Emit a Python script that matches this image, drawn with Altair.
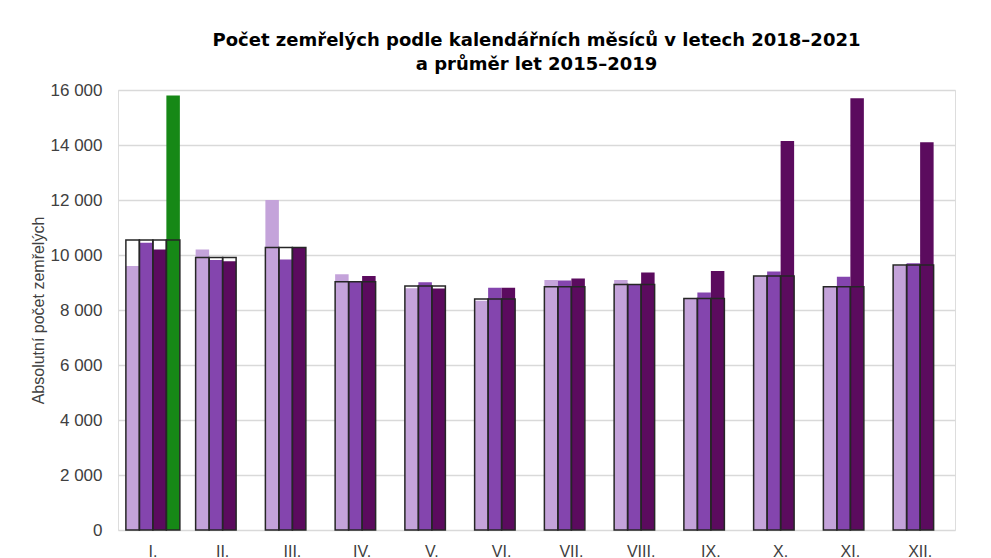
import altair as alt
import pandas as pd

months = ["I.", "II.", "III.", "IV.", "V.", "VI.", "VII.", "VIII.", "IX.", "X.", "XI.", "XII."]
years = ["2018", "2019", "2020", "2021"]

deaths_2018 = [9600, 10200, 12000, 9300, 8790, 8340, 9090, 9090, 8420, 9230, 8850, 9620]
deaths_2019 = [10450, 9820, 9840, 9030, 9010, 8810, 9070, 8930, 8640, 9400, 9210, 9700]
deaths_2020 = [10200, 9770, 10280, 9240, 8780, 8810, 9150, 9360, 9420, 14150, 15700, 14100]
deaths_2021 = [15800]
avg_2015_2019 = [10550, 9910, 10270, 9030, 8870, 8400, 8850, 8930, 8420, 9240, 8850, 9640]

colors = ["#C4A3DA", "#8445AE", "#5B0B5E", "#168816"]

series = {"2018": deaths_2018, "2019": deaths_2019, "2020": deaths_2020, "2021": deaths_2021}
bar_rows, box_rows = [], []
for yr, vals in series.items():
    for i, v in enumerate(vals):
        bar_rows.append({"month": months[i], "year": yr, "value": v})
        box_rows.append({"month": months[i], "year": yr, "value": avg_2015_2019[i]})
bars_df = pd.DataFrame(bar_rows)
box_df = pd.DataFrame(box_rows)

x = alt.X("month:N", sort=months,
          scale=alt.Scale(domain=months, paddingInner=0.226, paddingOuter=0.113),
          axis=alt.Axis(title=None, labelAngle=0, ticks=False, domain=False, grid=False,
                        labelFontSize=16, labelPadding=13, labelColor="#404040",
                        labelFont="Liberation Sans"))
xoff = alt.XOffset("year:N", sort=years,
                   scale=alt.Scale(domain=years, paddingInner=0, paddingOuter=0))
y = alt.Y("value:Q",
          scale=alt.Scale(domain=[0, 16000], nice=False),
          axis=alt.Axis(title="Absolutní počet zemřelých",
                        values=list(range(0, 16001, 2000)),
                        labelExpr="replace(format(datum.value, ','), ',', ' ')",
                        ticks=False, domain=False, labelPadding=16,
                        labelFontSize=17, labelColor="#404040", labelFont="Liberation Sans",
                        titleFontSize=16, titleFontWeight="normal", titleColor="#404040",
                        titleFont="Liberation Sans", titlePadding=4,
                        gridColor="#D9D9D9", gridWidth=1.5))

white_box = alt.Chart(box_df).mark_bar(fill="white").encode(x=x, xOffset=xoff, y=y)
bars = alt.Chart(bars_df).mark_bar().encode(
    x=x, xOffset=xoff, y=y,
    color=alt.Color("year:N", scale=alt.Scale(domain=years, range=colors), legend=None),
)
outline = alt.Chart(box_df).mark_bar(fill="transparent", stroke="#262626", strokeWidth=1.5).encode(
    x=x, xOffset=xoff, y=y)

chart = alt.layer(white_box, bars, outline).properties(
    width=837, height=440,
    padding={"top": 24, "left": 22, "right": 10, "bottom": 0},
    title=alt.TitleParams(
        ["Počet zemřelých podle kalendářních měsíců v letech 2018–2021", "a průměr let 2015–2019"],
        fontSize=18, font="DejaVu Sans", fontWeight="bold", color="#000000",
        anchor="middle", frame="group", offset=7, lineHeight=24),
).configure_view(stroke=None).configure(background="white")

chart.save("out.html", embed_options={"renderer": "svg", "actions": False})
